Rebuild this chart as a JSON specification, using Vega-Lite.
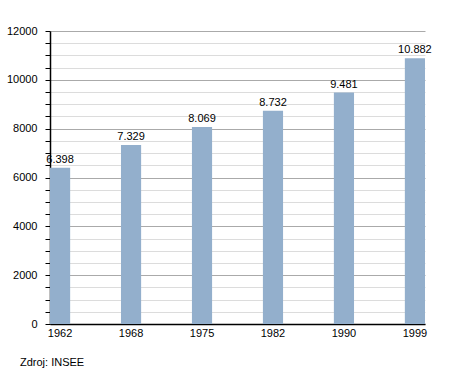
{
  "$schema": "https://vega.github.io/schema/vega-lite/v6.json",
  "width": 375,
  "height": 293,
  "autosize": "none",
  "padding": {"left": 50, "top": 31, "right": 30, "bottom": 49},
  "background": "white",
  "config": {
    "font": "Liberation Sans",
    "view": {"stroke": null},
    "locale": {"number": {"decimal": ",", "thousands": ".", "grouping": [3], "currency": ["", " €"]}}
  },
  "title": {
    "text": "Zdroj: INSEE",
    "orient": "bottom",
    "anchor": "start",
    "frame": "group",
    "dx": -30,
    "offset": 19,
    "fontSize": 11,
    "fontWeight": "normal",
    "color": "#000"
  },
  "data": {
    "values": [
      {"year": "1962", "pop": 6398},
      {"year": "1968", "pop": 7329},
      {"year": "1975", "pop": 8069},
      {"year": "1982", "pop": 8732},
      {"year": "1990", "pop": 9481},
      {"year": "1999", "pop": 10882}
    ]
  },
  "encoding": {
    "x": {
      "field": "year",
      "type": "ordinal",
      "scale": {"paddingInner": 0.716, "paddingOuter": 0},
      "axis": {
        "title": null,
        "labelAngle": 0,
        "ticks": false,
        "labelPadding": 3,
        "labelFontSize": 11,
        "labelColor": "#000",
        "domainColor": "#000",
        "domainWidth": 1.5
      }
    },
    "y": {
      "field": "pop",
      "type": "quantitative",
      "scale": {"domain": [0, 12000], "nice": false},
      "axis": {
        "title": null,
        "values": [0,500,1000,1500,2000,2500,3000,3500,4000,4500,5000,5500,6000,6500,7000,7500,8000,8500,9000,9500,10000,10500,11000,11500,12000],
        "labelExpr": "datum.value % 2000 === 0 ? format(datum.value, 'd') : ''",
        "gridColor": {"condition": {"test": "datum.value % 2000 === 0", "value": "#aaaaaa"}, "value": "#dcdcdc"},
        "gridWidth": 1,
        "tickSize": 5,
        "tickColor": "#000",
        "labelPadding": 8,
        "labelFontSize": 11,
        "labelColor": "#000",
        "domainColor": "#000",
        "domainWidth": 1.5
      }
    }
  },
  "layer": [
    {"mark": {"type": "bar", "color": "#93afcc"}},
    {
      "mark": {"type": "text", "baseline": "bottom", "dy": -3, "fontSize": 11, "color": "#000"},
      "encoding": {"text": {"field": "pop", "type": "quantitative", "format": ",d"}}
    }
  ]
}
